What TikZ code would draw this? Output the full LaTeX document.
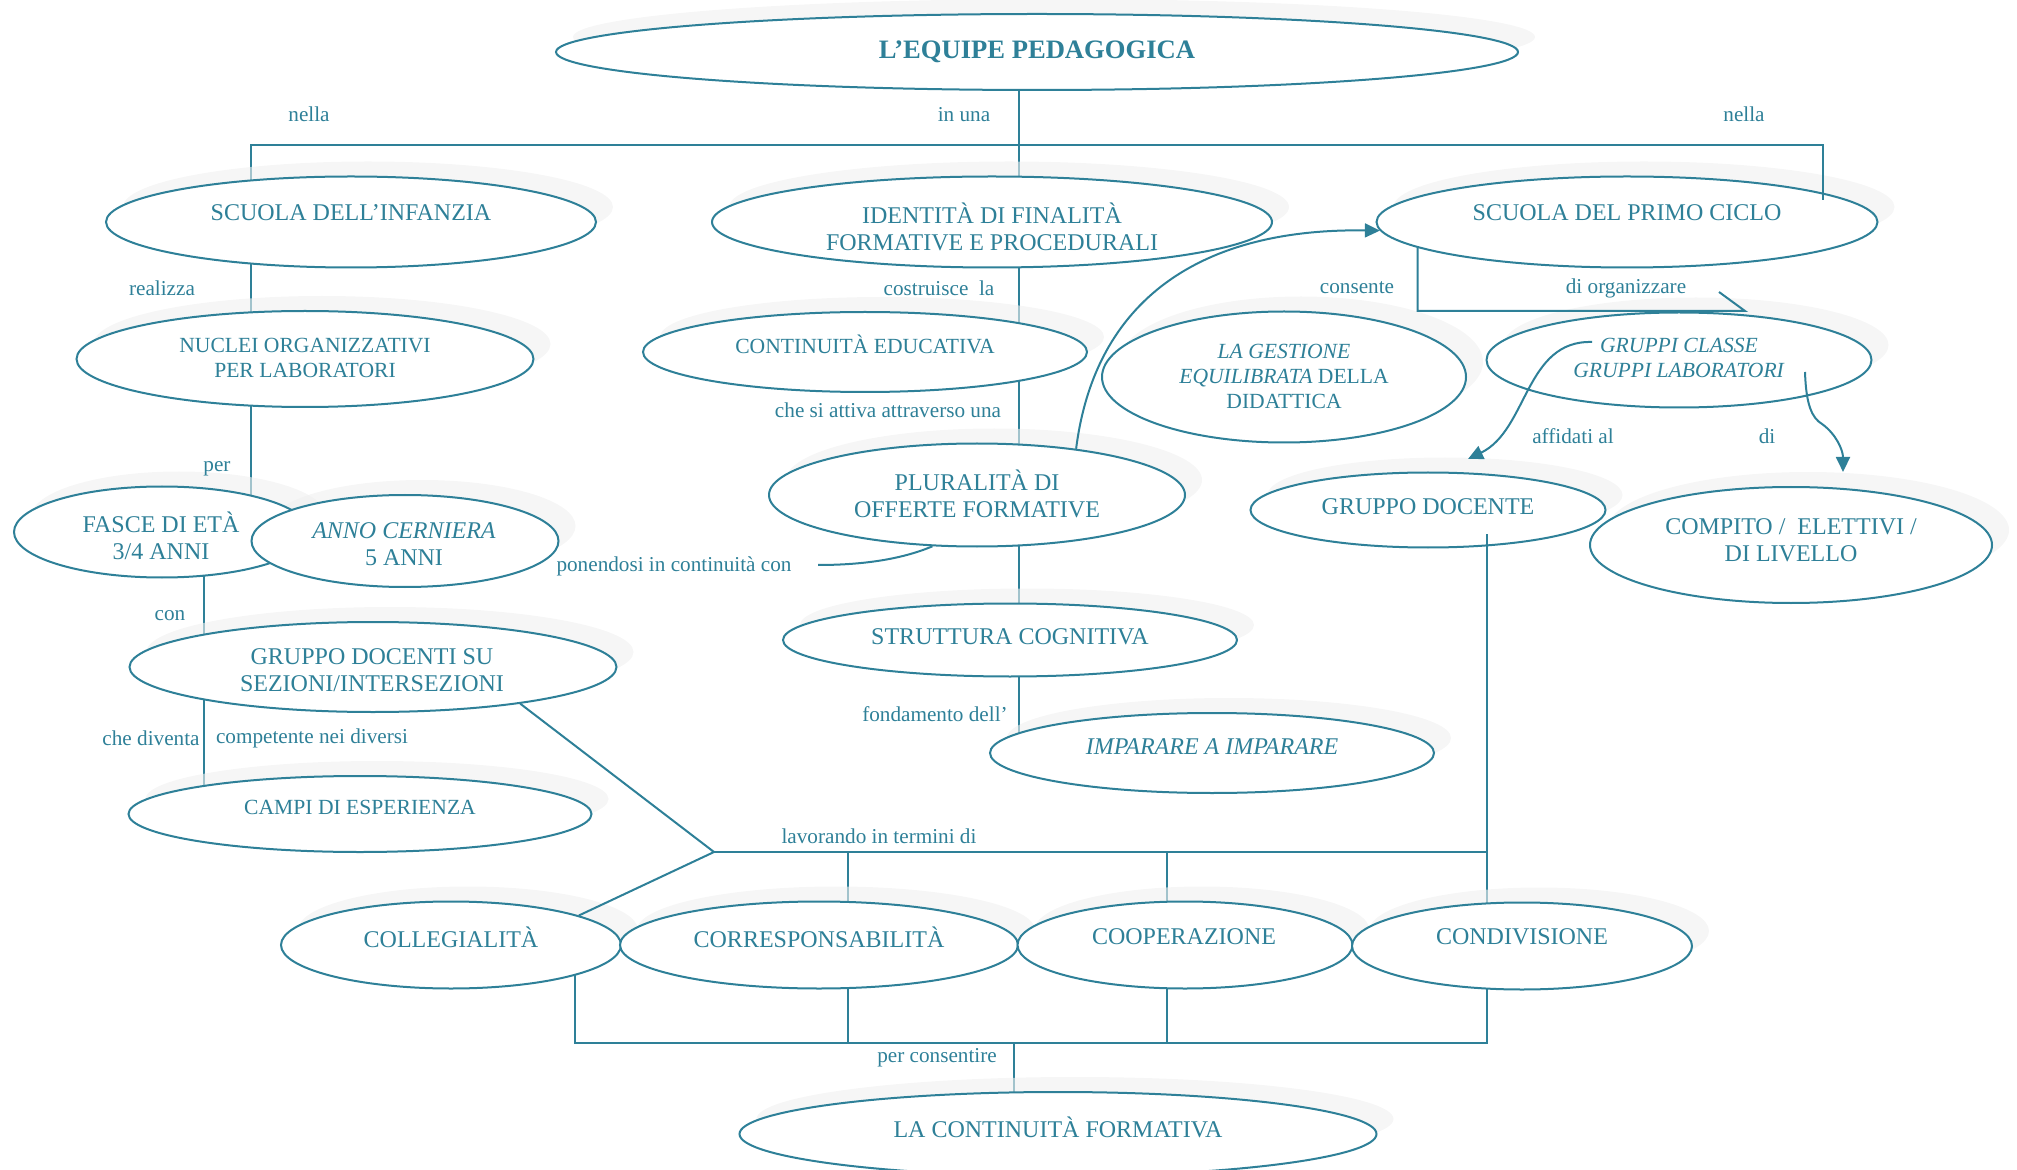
\documentclass[tikz,border=0pt]{standalone}
\usepackage{fontspec}
\setmainfont{Liberation Serif}
\usetikzlibrary{shapes.geometric,calc,arrows.meta}

\definecolor{ink}{RGB}{46,128,152}
\definecolor{haze}{RGB}{240,240,240}

\pgfdeclarelayer{lines}
\pgfdeclarelayer{shade}
\pgfsetlayers{lines,shade,main}

\tikzset{
  ell/.style={ellipse, draw=ink, line width=1pt, fill=white, inner sep=0pt},
  halo/.style={ellipse, fill=haze, fill opacity=.6, draw=none, inner sep=0pt},
  txt/.style={text=ink, align=center, inner sep=0pt, font=\fontsize{12}{13.5}\selectfont},
  small/.style={txt, font=\fontsize{10.8}{12.5}\selectfont},
  title/.style={txt, font=\fontsize{13.3}{15}\selectfont\bfseries},
  lab/.style={text=ink, inner sep=0pt, font=\fontsize{10.6}{12}\selectfont},
  link/.style={draw=ink, line width=1pt},
  bar/.style={link, line cap=rect},
  tip/.style={-{Triangle[length=7.5pt,width=7pt]}}
}

% concept: [text style]{name}{centre}{width}{height}{text centre}{text}
\newcommand\concept[7][txt]{%
  \begin{pgfonlayer}{shade}
    \node[halo, minimum width=#4, minimum height=#5] (#2-s) at ($(#3)+(17,-15)$) {};
  \end{pgfonlayer}
  \node[ell, minimum width=#4, minimum height=#5] (#2) at (#3) {};
  \node[#1] (#2-t) at (#6) {#7};
}

\begin{document}
\begin{tikzpicture}[x=0.5pt, y=-0.5pt]
\useasboundingbox (0,0) rectangle (2017,1170);

% junction points of the connectors
\coordinate (bar-l) at (251,145);
\coordinate (bar-m) at (1019,145);
\coordinate (bar-r) at (1823,145);
\coordinate (bar-r-end) at (1823,199);
\coordinate (col2) at (204,600);
\coordinate (junc) at (714,852);
\coordinate (h1) at (848,852);
\coordinate (h2) at (1167,852);
\coordinate (h3) at (1487,852);
\coordinate (gd-start) at (1487,535);
\coordinate (b0) at (575,1043);
\coordinate (b1) at (848,1043);
\coordinate (b2) at (1167,1043);
\coordinate (b3) at (1487,1043);
\coordinate (b-out) at (1014,1043);
\coordinate (org-end) at (1745,311);
\coordinate (org-tick) at (1719,292);
\coordinate (pon-end) at (818,565);
\coordinate (aff-start) at (1592,342);
\coordinate (aff-end) at (1468,459);
\coordinate (di-start) at (1805,372);
\coordinate (di-end) at (1843,472);

% concepts
\concept[title]{equipe}{1037,52}{481pt}{38pt}{1037,52}{L'EQUIPE PEDAGOGICA}
\concept{infanzia}{351,222}{245pt}{45.5pt}{351,213}{SCUOLA DELL'INFANZIA}
\concept[small]{nuclei}{305,359}{228.5pt}{48pt}{305,358}{NUCLEI ORGANIZZATIVI\\PER LABORATORI}
\concept{fasce}{162,532}{148pt}{45.5pt}{161,536}{FASCE DI ETÀ\\3/4 ANNI}
\concept{anno}{405,541}{153.5pt}{46pt}{404,544}{\textit{ANNO CERNIERA}\\5 ANNI}
\concept{gdocenti}{373,667}{243.5pt}{45pt}{372,670}{GRUPPO DOCENTI SU\\SEZIONI/INTERSEZIONI}
\concept[small]{campi}{360,814}{231.5pt}{38pt}{360,807}{CAMPI DI ESPERIENZA}
\concept{identita}{992,222}{280pt}{45.5pt}{992,227}{IDENTITÀ DI FINALITÀ\\FORMATIVE E PROCEDURALI}
\concept[small]{continuita}{865,352}{222pt}{40pt}{865,344}{CONTINUITÀ EDUCATIVA}
\concept{pluralita}{977,495}{208pt}{51.5pt}{977,494}{PLURALITÀ DI\\OFFERTE FORMATIVE}
\concept{struttura}{1010,640}{227pt}{36.5pt}{1010,637}{STRUTTURA COGNITIVA}
\concept{imparare}{1212,753}{222pt}{40pt}{1212,747}{\textit{IMPARARE A IMPARARE}}
\concept[small]{gestione}{1284,377}{182pt}{65.5pt}{1284,376}{\textit{LA GESTIONE}\\\textit{EQUILIBRATA} DELLA\\DIDATTICA}
\concept{primo}{1627,222}{250.5pt}{45.5pt}{1627,213}{SCUOLA DEL PRIMO CICLO}
\concept[small]{gruppi}{1679,360}{192.5pt}{47.5pt}{1679,358}{\textit{GRUPPI CLASSE}\\\textit{GRUPPI LABORATORI}}
\concept{gdocente}{1428,510}{177.5pt}{37.5pt}{1428,507}{GRUPPO DOCENTE}
\concept{compito}{1791,545}{201pt}{58pt}{1791,540}{COMPITO /\ \ ELETTIVI /\\DI LIVELLO}
\concept{colleg}{451,945}{170pt}{43.5pt}{451,937}{COLLEGIALITÀ}
\concept{corresp}{819,945}{199pt}{43.5pt}{819,937}{CORRESPONSABILITÀ}
\concept{coop}{1185,945}{167.5pt}{43.5pt}{1184,937}{COOPERAZIONE}
\concept{condiv}{1522,946}{170pt}{43.5pt}{1522,937}{CONDIVISIONE}
\concept{lacont}{1058,1134}{318.5pt}{42pt}{1058,1127}{LA CONTINUITÀ FORMATIVA}

% connectors running behind the concepts
\begin{pgfonlayer}{lines}
  \draw[bar] (bar-m |- equipe.center) -- (bar-m) -- (bar-m |- imparare.center);
  \draw[bar] (bar-l |- fasce.center) -- (bar-l) -- (bar-r);
  \draw[link] (col2 |- fasce.center) -- (col2 |- campi.center);
  \draw[link] (h1) -- (h1 |- corresp.center);
  \draw[link] (h2) -- (h2 |- coop.center);
  \draw[bar] (h3) -- (h3 |- condiv.center);
  \draw[bar] (b0 |- colleg.center) -- (b0) -- (b3) -- (b3 |- condiv.center);
  \draw[link] (b1 |- corresp.center) -- (b1);
  \draw[link] (b2 |- coop.center) -- (b2);
  \draw[link] (b-out) -- (b-out |- lacont.center);
\end{pgfonlayer}

% connectors in front
\draw[bar] (bar-r) -- (bar-r-end);
\draw[link] (gdocenti.-14) -- (junc) -- (colleg.13);
\draw[bar] (junc) -- (h3);
\draw[bar] (gd-start) -- (h3);
\draw[link] (primo.187) |- (org-end) -- (org-tick);
\draw[link, tip] (pluralita.25) .. controls (1095,300) and (1200,228) .. (primo.182);
\draw[link] (pluralita.229) .. controls (900,560) and (860,565) .. (pon-end);
\draw[link, tip] (aff-start) .. controls (1525,340) and (1528,430) .. (aff-end);
\draw[link, tip] (di-start) .. controls (1806,405) and (1812,418) .. (1822,424)
                 .. controls (1836,434) and (1843,450) .. (di-end);

% connector labels
\node[lab] (l-nella1) at (309,114) {nella};
\node[lab] (l-inuna) at (964,115) {in una};
\node[lab] (l-nella2) at (1744,114) {nella};
\node[lab] (l-realizza) at (162,288) {realizza};
\node[lab] (l-per) at (217,469) {per};
\node[lab] (l-con) at (170,616) {con};
\node[lab] (l-diventa) at (151,738) {che diventa};
\node[lab] (l-competente) at (312,738) {competente nei diversi};
\node[lab] (l-costruisce) at (939,288) {costruisce\ \ la};
\node[lab] (l-attiva) at (888,410) {che si attiva attraverso una};
\node[lab] (l-ponendosi) at (674,566) {ponendosi in continuità con};
\node[lab] (l-fondamento) at (935,714) {fondamento dell'};
\node[lab] (l-consente) at (1357,288) {consente};
\node[lab] (l-organizzare) at (1626,288) {di organizzare};
\node[lab] (l-affidati) at (1573,436) {affidati al};
\node[lab] (l-di) at (1767,436) {di};
\node[lab] (l-lavorando) at (879,836) {lavorando in termini di};
\node[lab] (l-consentire) at (937,1058) {per consentire};
\end{tikzpicture}
\end{document}
